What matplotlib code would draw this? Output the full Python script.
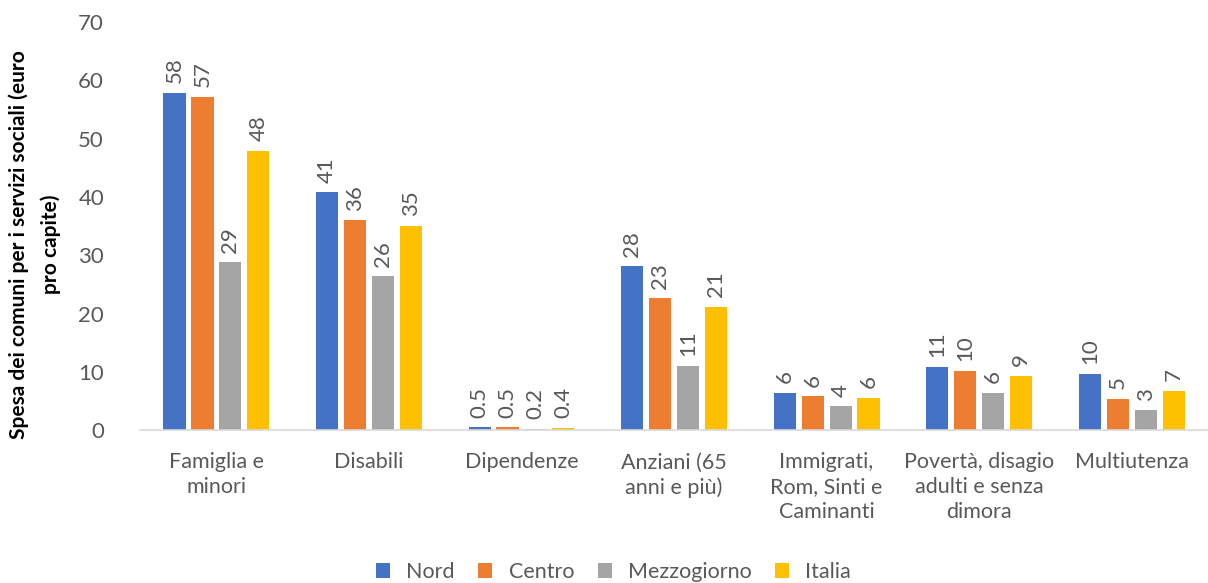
import numpy as np
import matplotlib.pyplot as plt

plt.rcParams["font.family"] = ["Lato", "DejaVu Sans"]

categories = ["Famiglia e\nminori", "Disabili", "Dipendenze", "Anziani (65\nanni e più)",
              "Immigrati,\nRom, Sinti e\nCaminanti", "Povertà, disagio\nadulti e senza\ndimora",
              "Multiutenza"]
series = ["Nord", "Centro", "Mezzogiorno", "Italia"]
nord = [57.9, 40.8, 0.5, 28.1, 6.4, 10.9, 9.7]
centro = [57.2, 36.0, 0.5, 22.6, 5.8, 10.2, 5.4]
mezzogiorno = [28.8, 26.4, 0.2, 11.0, 4.1, 6.4, 3.4]
italia = [47.9, 35.0, 0.4, 21.2, 5.5, 9.3, 6.7]
colors = ["#4472C4", "#ED7D31", "#A5A5A5", "#FFC000"]

values = [nord, centro, mezzogiorno, italia]
grey = "#595959"

fig = plt.figure(figsize=(12.08, 5.83), dpi=100)
ax = fig.add_axes([0.116, 0.262, 0.884, 0.70])

x = np.arange(len(categories))
step = 0.183
width = 0.145
for k, (name, vals, c) in enumerate(zip(series, values, colors)):
    pos = x + (k - 1.5) * step
    ax.bar(pos, vals, width=width, color=c, label=name, zorder=2)
    for p, v in zip(pos, vals):
        lab = f"{v:.1f}" if v < 1 else f"{v:.0f}"
        ax.annotate(lab, (p, v), xytext=(0, 7), textcoords="offset points",
                    rotation=90, ha="center", va="bottom", fontsize=16, color=grey)

ax.set_xlim(-0.5, len(categories) - 0.5)
ax.set_ylim(0, 70)
ax.set_yticks(range(0, 71, 10))
ax.set_xticks(x)
ax.set_xticklabels(categories, fontsize=15.5, color=grey, linespacing=1.3)
ax.tick_params(axis="y", labelsize=16, labelcolor=grey, length=0, pad=26)
ax.tick_params(axis="x", length=0, pad=16)
for s in ["top", "right", "left"]:
    ax.spines[s].set_visible(False)
ax.spines["bottom"].set_color("#D9D9D9")
ax.spines["bottom"].set_linewidth(1.2)

ax.set_ylabel("Spesa dei comuni per i servizi sociali (euro\npro capite)",
              fontsize=15, fontweight="bold", color="black", linespacing=1.7)
ax.yaxis.set_label_coords(-0.074, 0.455)

fig.legend(loc="center", ncol=4, frameon=False, fontsize=15.5,
           bbox_to_anchor=(0.508, 0.019), handlelength=0.65, handleheight=0.65,
           columnspacing=1.1, handletextpad=0.75, labelcolor=grey)

fig.savefig("out.png", dpi=100)
